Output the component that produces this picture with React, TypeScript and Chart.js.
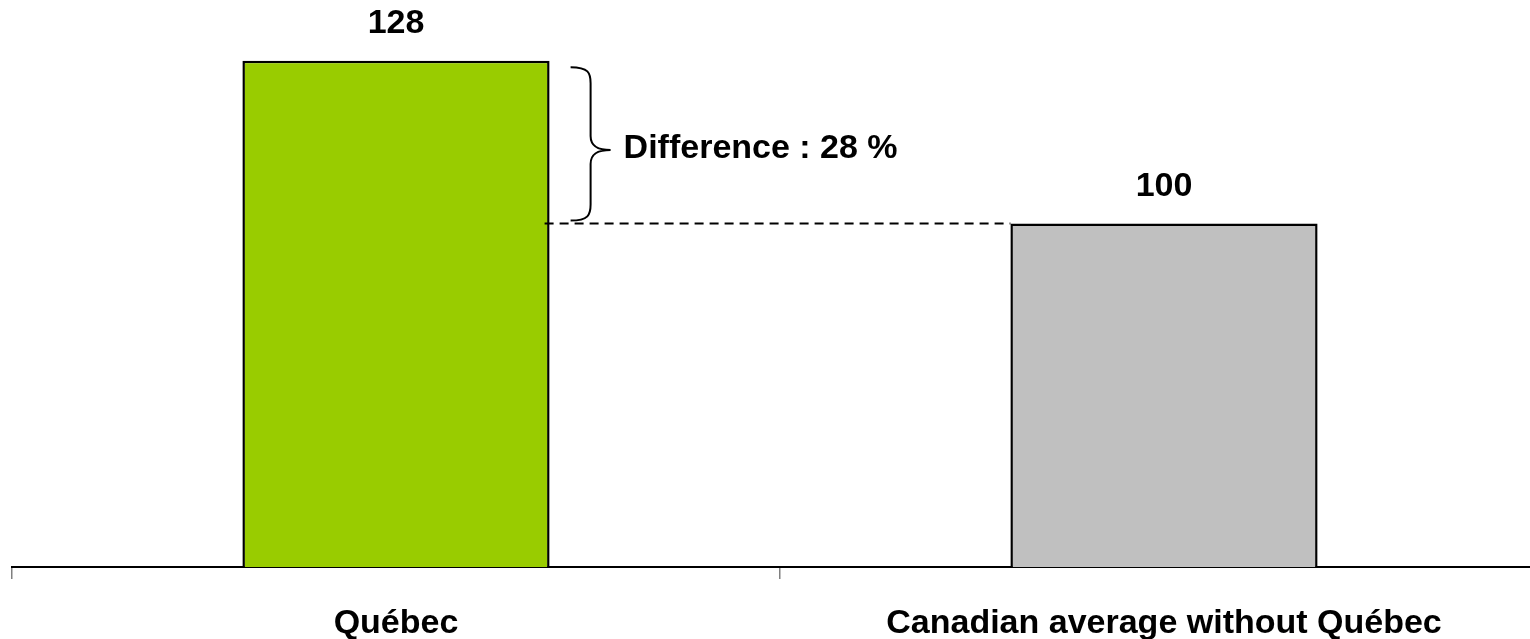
import React, { useEffect, useRef } from "react";
import { Chart, registerables } from "chart.js";

Chart.register(...registerables);

const categories = ["Québec", "Canadian average without Québec"];
const values = [128, 100];
const barColors = ["#99CC00", "#C0C0C0"];
const differenceLabel = "Difference : 28 %";

const FONT = "'Liberation Sans', Arial, Helvetica, sans-serif";
const CANVAS_W = 1560;
const CANVAS_H = 680;
const AXIS_Y = 567;

const annotationPlugin = {
  id: "annotations",
  afterDatasetsDraw(chart: any) {
    const ctx = chart.ctx;
    const meta = chart.getDatasetMeta(0);
    const yScale = chart.scales.y;
    const b0 = meta.data[0] as any;
    const b1 = meta.data[1] as any;
    if (!b0 || !b1) return;
    const y100 = yScale.getPixelForValue(values[1]);
    const y128 = yScale.getPixelForValue(values[0]);
    const b0Right = b0.x + b0.width / 2;
    const b1Left = b1.x - b1.width / 2;

    ctx.save();
    // value labels
    ctx.fillStyle = "#000";
    ctx.font = `bold 34px ${FONT}`;
    ctx.textAlign = "center";
    ctx.textBaseline = "middle";
    meta.data.forEach((el: any, i: number) => {
      ctx.fillText(String(values[i]), el.x, el.y - 37);
    });

    // dashed line
    ctx.strokeStyle = "#000";
    ctx.lineWidth = 2;
    ctx.setLineDash([9, 6]);
    ctx.beginPath();
    ctx.moveTo(b0Right - 5, y100);
    ctx.lineTo(b1Left, y100);
    ctx.stroke();
    ctx.setLineDash([]);

    // brace
    const x0 = b0Right + 21;
    const x1 = x0 + 20;
    const xt = x0 + 40;
    const top = y128 + 6.5;
    const bot = y100 - 3;
    const mid = top + (bot - top) * 0.54;
    ctx.lineWidth = 2;
    ctx.beginPath();
    ctx.moveTo(x0, top);
    ctx.bezierCurveTo(x1 - 2, top, x1, top + 6, x1, top + 16);
    ctx.lineTo(x1, mid - 14);
    ctx.bezierCurveTo(x1, mid - 3, x1 + 8, mid, xt, mid);
    ctx.bezierCurveTo(x1 + 8, mid, x1, mid + 3, x1, mid + 14);
    ctx.lineTo(x1, bot - 16);
    ctx.bezierCurveTo(x1, bot - 6, x1 - 2, bot, x0, bot);
    ctx.stroke();

    // difference text
    ctx.font = `bold 34px ${FONT}`;
    ctx.textAlign = "left";
    ctx.textBaseline = "middle";
    ctx.fillText(differenceLabel, xt + 13, mid - 1);
    ctx.restore();
  },
};

export default function App() {
  const canvasRef = useRef<HTMLCanvasElement | null>(null);

  useEffect(() => {
    if (!canvasRef.current) return;
    const chart = new Chart(canvasRef.current, {
      type: "bar",
      data: {
        labels: categories,
        datasets: [
          {
            data: values,
            backgroundColor: barColors,
            borderColor: "#000000",
            borderWidth: 2.5,
            barPercentage: 0.4,
            categoryPercentage: 1,
          },
        ],
      },
      options: {
        responsive: false,
        animation: false,
        devicePixelRatio: 1,
        layout: { padding: { top: 10, left: 12, right: 12, bottom: 0 } },
        plugins: {
          legend: { display: false },
          tooltip: { enabled: false },
        },
        scales: {
          x: {
            type: "category",
            offset: true,
            grid: {
              display: true,
              drawOnChartArea: false,
              drawTicks: true,
              tickLength: 12,
              color: "#808080",
              lineWidth: 1.5,
              offset: true,
            },
            border: { display: true, color: "#000000", width: 2 },
            ticks: {
              color: "#000000",
              padding: 24,
              maxRotation: 0,
              autoSkip: false,
              font: { family: FONT, size: 34, weight: "bold" },
            },
            afterFit: (s: any) => {
              s.height = CANVAS_H - AXIS_Y;
            },
          },
          y: {
            display: false,
            min: 41,
            max: 136.7,
          },
        },
      },
      plugins: [annotationPlugin],
    });
    return () => chart.destroy();
  }, []);

  return (
    <div
      style={{
        position: "fixed",
        top: 0,
        left: 0,
        width: 1530,
        height: 639,
        overflow: "hidden",
        background: "#fff",
      }}
    >
      <canvas ref={canvasRef} width={CANVAS_W} height={CANVAS_H} style={{ display: "block" }} />
    </div>
  );
}
